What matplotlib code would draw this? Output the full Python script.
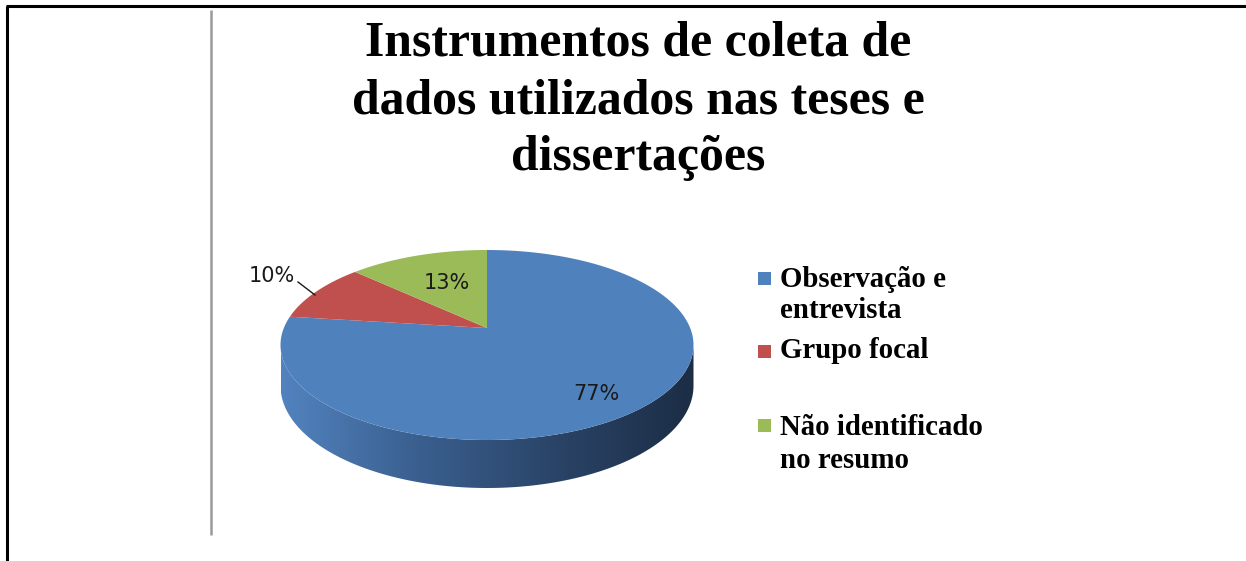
import numpy as np
import matplotlib
matplotlib.use("Agg")
import matplotlib.pyplot as plt
from matplotlib.patches import Polygon, Rectangle
from matplotlib.colors import LinearSegmentedColormap

# ---- data ----
categories = ["Observação e\nentrevista", "Grupo focal", "Não identificado\nno resumo"]
values = [77, 10, 13]
pct_labels = ["77%", "10%", "13%"]
colors = ["#4F81BD", "#C0504D", "#9BBB59"]
title_lines = ["Instrumentos de coleta de", "dados utilizados nas teses e", "dissertações"]

W, H = 1246, 561
fig = plt.figure(figsize=(W / 100, H / 100), dpi=100)
ax = fig.add_axes([0, 0, 1, 1])
ax.set_xlim(0, W)
ax.set_ylim(H, 0)
ax.axis("off")

# ---- frame lines ----
ax.plot([6.5, 6.5], [6, H], color="black", lw=2.2, solid_capstyle="butt")
ax.plot([6, W], [6, 6], color="black", lw=2.2, solid_capstyle="butt")
ax.plot([210.5, 210.5], [10, 535], color="#9a9a9a", lw=1.8, solid_capstyle="butt")

# ---- 3D pie geometry (perspective projection of a disc) ----
cx, cy = 487.0, 328.0
top_y, bot_y = 250.0, 440.0
g = (2 * cy - top_y - bot_y) / (bot_y - top_y)
a = bot_y * (1 + g) - cy
wmax = np.cos(np.arcsin(-g)) / (1 + g * (-g))
k = 206.5 / wmax
depth_front = 48.0
D = depth_front * (1 + g)


def proj(x, y):
    den = 1 + g * y
    return cx + k * x / den, (a * y + cy) / den


def arc(t0, t1, n=200):
    t = np.radians(np.linspace(t0, t1, n))
    return proj(np.sin(t), -np.cos(t))


# side wall (visible near half)
phi0 = np.arcsin(-g)
ph = np.linspace(phi0, np.pi - phi0, 400)
xs, ys = np.cos(ph), np.sin(ph)
px, py = proj(xs, ys)
dep = D / (1 + g * ys)
side_pts = np.vstack([np.column_stack([px, py]), np.column_stack([px, py + dep])[::-1]])
side_poly = Polygon(side_pts, closed=True, facecolor="none", edgecolor="none")
ax.add_patch(side_poly)
cmap = LinearSegmentedColormap.from_list("side", ["#5283BF", "#3A5F8F", "#2A4467", "#1C2D45"])
grad = np.linspace(0, 1, 512).reshape(1, -1)
im = ax.imshow(grad, cmap=cmap, extent=(px.min(), px.max(), (py + dep).max() + 2, py.min() - 2),
               aspect="auto", interpolation="bilinear", zorder=1)
im.set_clip_path(side_poly)

# top face slices, clockwise from 12 o'clock
total = float(sum(values))
start = 0.0
for v, c in zip(values, colors):
    ext = 360.0 * v / total
    ax_, ay_ = arc(start, start + ext)
    pts = np.vstack([[cx, cy], np.column_stack([ax_, ay_])])
    ax.add_patch(Polygon(pts, closed=True, facecolor=c, edgecolor="none", zorder=2))
    start += ext

# ---- data labels ----
lab_font = dict(family="DejaVu Sans", fontsize=15, color="#1a1a1a", zorder=5)
ax.text(596, 394, pct_labels[0], ha="center", va="center", **lab_font)
ax.text(447, 282.5, pct_labels[2], ha="center", va="center", **lab_font)
ax.text(271.5, 275.5, pct_labels[1], ha="center", va="center", **lab_font)
ax.plot([298, 315], [282, 295], color="#1a1a1a", lw=1.0, zorder=5)

# ---- title ----
tfont = dict(family="Liberation Serif", fontweight="bold", fontsize=35.8, color="black")
for line, yb in zip(title_lines, [55, 113, 170]):
    ax.text(638, yb, line, ha="center", va="baseline", **tfont)

# ---- legend ----
lfont = dict(family="Liberation Serif", fontweight="bold", fontsize=20.8, color="black")
leg_sq_y = [278.5, 351.5, 425]
leg_base = [[287, 318], [358], [435, 468]]
for lab, c, sy, bases in zip(categories, colors, leg_sq_y, leg_base):
    ax.add_patch(Rectangle((758, sy - 6.5), 13, 13, facecolor=c, edgecolor="none"))
    for ln, yb in zip(lab.split("\n"), bases):
        ax.text(780, yb, ln, ha="left", va="baseline", **lfont)

fig.savefig("out.png", dpi=100)
